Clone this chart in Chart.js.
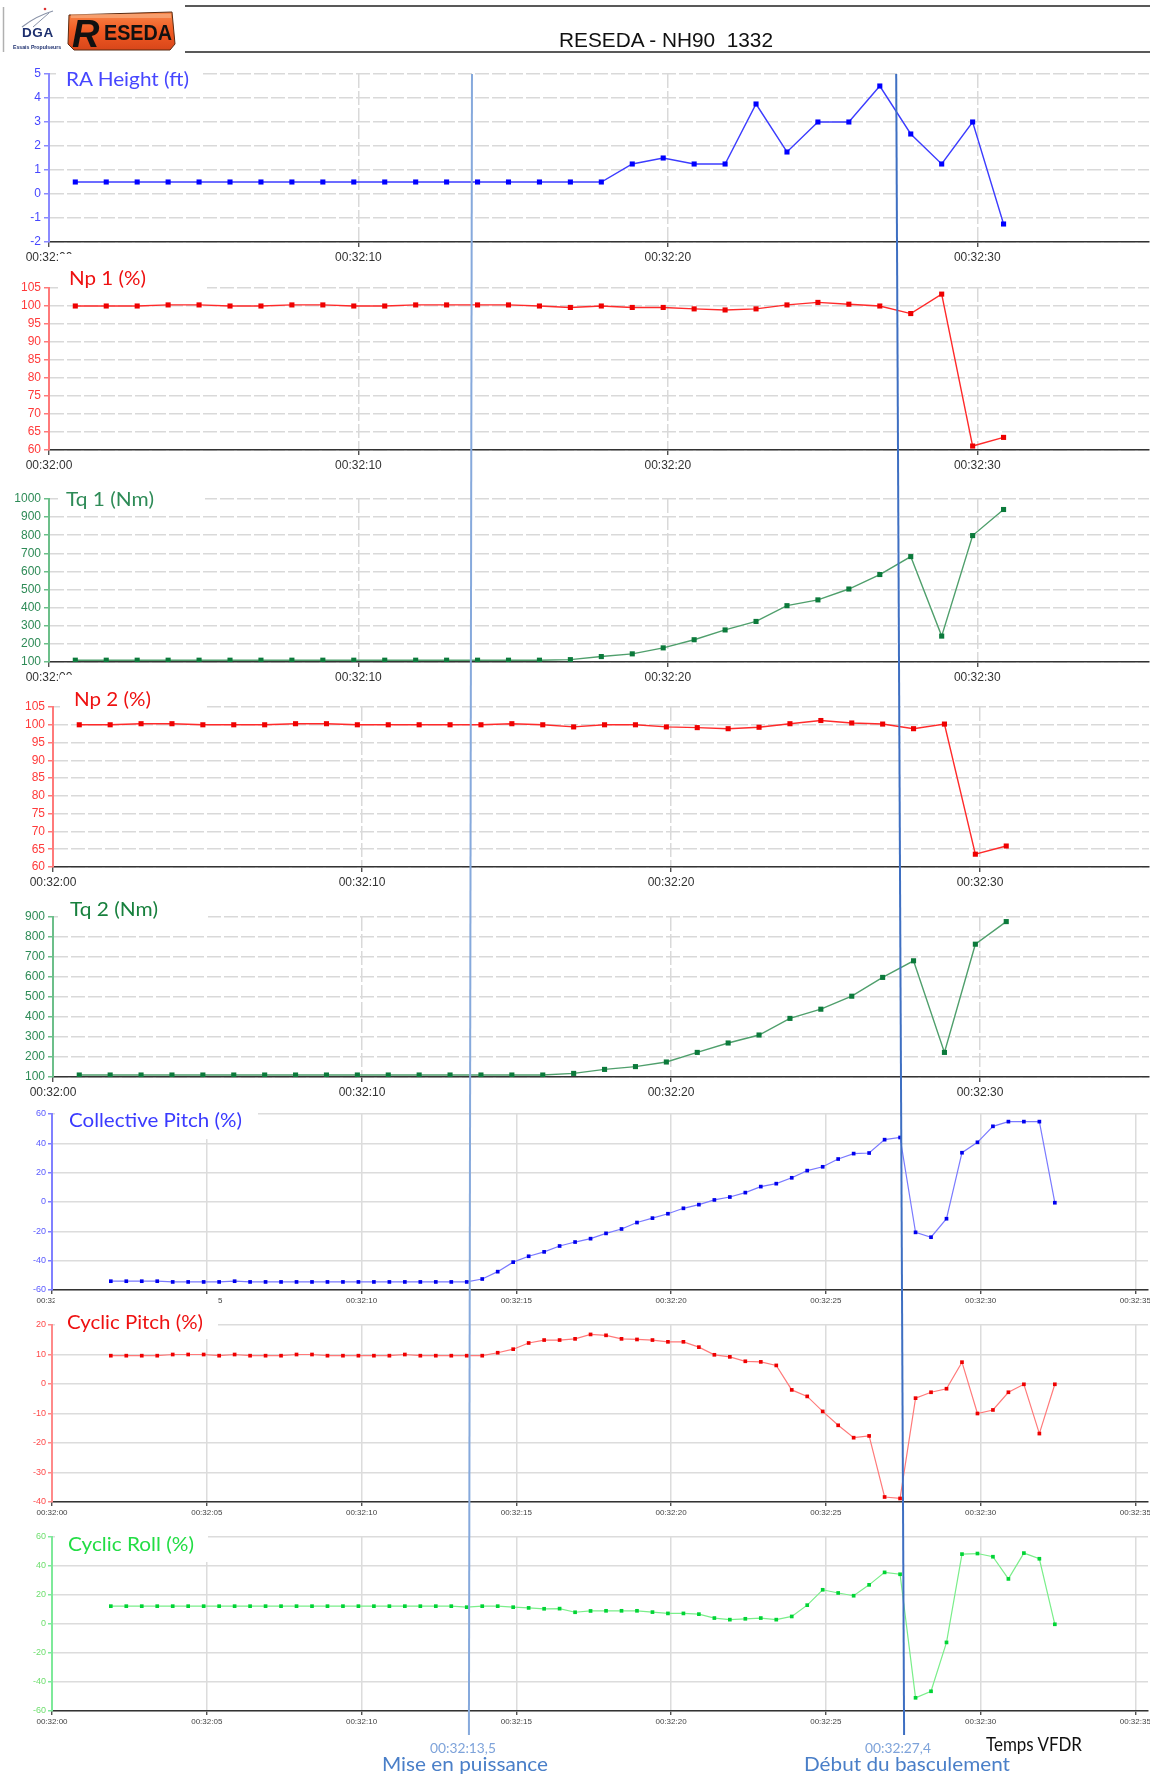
<!DOCTYPE html>
<html><head><meta charset="utf-8">
<script src="https://cdn.jsdelivr.net/npm/chart.js@4.4.1/dist/chart.umd.min.js"></script>
<style>
html,body{margin:0;padding:0;background:#fff;}
#page{position:relative;width:1154px;height:1776px;overflow:hidden;background:#fff;font-family:"Liberation Sans",Arial,sans-serif;}
canvas.panel{position:absolute;left:0;z-index:1;}
.tbox{position:absolute;background:#fff;z-index:5;}
.txt{position:absolute;white-space:pre;line-height:1;z-index:8;}
svg.ov{position:absolute;left:0;top:0;z-index:7;pointer-events:none;}
#edge{position:absolute;left:1150px;top:0;width:4px;height:1776px;background:#fff;z-index:6;}
</style></head>
<body><div id="page"><div id="edge"></div></div>
<script>
// ---------------- DATA ----------------
const engineTimes = [0.85,1.85,2.85,3.85,4.85,5.85,6.85,7.85,8.85,9.85,10.85,11.85,12.85,13.85,14.85,15.85,16.85,17.85,18.85,19.85,20.85,21.85,22.85,23.85,24.85,25.85,26.85,27.85,28.85,29.85,30.85];
const flightTimes = [1.9,2.4,2.9,3.4,3.9,4.4,4.9,5.4,5.9,6.4,6.9,7.4,7.9,8.4,8.9,9.4,9.9,10.4,10.9,11.4,11.9,12.4,12.9,13.4,13.9,14.4,14.9,15.4,15.9,16.4,16.9,17.4,17.9,18.4,18.9,19.4,19.9,20.4,20.9,21.4,21.9,22.4,22.9,23.4,23.9,24.4,24.9,25.4,25.9,26.4,26.9,27.4,27.9,28.4,28.9,29.4,29.9,30.4,30.9,31.4,31.9,32.4];

const raHeight = [0.5,0.5,0.5,0.5,0.5,0.5,0.5,0.5,0.5,0.5,0.5,0.5,0.5,0.5,0.5,0.5,0.5,0.5,1.25,1.5,1.25,1.25,3.75,1.75,3,3,4.5,2.5,1.25,3,-1.25];
const np1 = [100,100,100,100.3,100.3,100,100,100.3,100.3,100,100,100.3,100.3,100.3,100.3,100,99.6,100,99.6,99.6,99.2,98.9,99.2,100.3,101,100.5,100,97.9,103.3,61.1,63.5];
const tq1 = [110,110,110,110,110,110,110,110,110,110,110,110,110,110,110,110,113,130,145,178,223,277,324,411,443,503,583,682,243,798,942];
const np2 = [100,100,100.3,100.3,100,100,100,100.3,100.3,100,100,100,100,100,100.3,100,99.4,100,100,99.4,99.2,98.9,99.3,100.3,101.2,100.5,100.2,98.9,100.2,63.6,65.9];
const tq2 = [110,110,110,110,110,110,110,110,110,110,110,110,110,110,110,110,118,138,152,175,223,270,310,393,439,504,598,681,223,764,877];

const collectivePitch = [-54,-54,-54,-54,-54.5,-54.5,-54.5,-54.5,-54,-54.5,
 -54.5,-54.5,-54.5,-54.5,-54.5,-54.5,-54.5,-54.5,-54.5,-54.5,
 -54.5,-54.5,-54.5,-54.5,-52.5,-47.5,-41,-37,-34,-30,
 -27.3,-25,-21.4,-18.4,-14,-11,-8,-4.3,-1.8,1.4,
 3.4,6.4,10.5,12.5,16.5,21.4,24,29.3,33,33.4,
 42.5,44,-20.7,-24,-11.4,33.6,40.7,51.6,54.8,54.8,
 54.8,-0.5];
const cyclicPitch = [9.6,9.6,9.6,9.6,10,10,10,9.6,10,9.6,
 9.6,9.6,10,10,9.6,9.6,9.6,9.6,9.6,10,
 9.6,9.6,9.6,9.6,9.6,10.6,11.8,13.9,14.9,14.9,
 15.3,16.8,16.5,15.3,15.1,14.9,14.3,14.3,12.5,9.9,
 9.2,7.7,7.5,6.3,-2,-4.2,-9.3,-14,-18.2,-17.6,
 -38.3,-38.8,-4.8,-2.8,-1.6,7.4,-10,-8.8,-2.8,-0.1,
 -16.8,-0.1];
const cyclicRoll = [12.3,12.3,12.3,12.3,12.3,12.3,12.3,12.3,12.3,12.3,
 12.3,12.3,12.3,12.3,12.3,12.3,12.3,12.3,12.3,12.3,
 12.3,12.3,12.3,11.6,12.3,12.3,11.6,11.1,10.5,10.6,
 8.1,9,9.1,9.1,9.1,8.2,7.3,7.3,6.8,4.1,
 3,3.6,4.1,3,5.2,13,23.6,21.4,19.5,27,
 35.6,34.3,-50.9,-46.4,-12.7,48.2,48.6,46.4,31.1,48.9,
 45,-0.2];

const engineTicks = [0,10,20,30];
const flightTicks = [0,5,10,15,20,25,30,35];
const markerLabels = ['00:32:13,5','00:32:27,4'];
const markerNames = ['Mise en puissance','Début du basculement'];
const markerTopTimes = [13.67,27.38];
const markerBottomTimes = [13.47,27.53];
const chartTitle = 'RESEDA - NH90  1332';
const xAxisName = 'Temps VFDR';

// ---------------- LAYOUT / STYLE ----------------
Chart.defaults.font.family = '"Liberation Sans", Arial, sans-serif';
const page = document.getElementById('page');
const W = 1154;

const panels = [
 {title:'RA Height (ft)', values:raHeight, times:engineTimes, xticks:engineTicks, kind:'e', left:49, right:1149, top:74, bottom:242, xmax:35.55, ymin:-2, ymax:5, ystep:1,
  line:'#3c3cff', point:'#0000ff', axis:'#8a8aff', tick:'#4646ff', tcol:'#4646ff', box:[56,60,147,28], tx:66, tcy:78, tw:123},
 {title:'Np 1 (%)', values:np1, times:engineTimes, xticks:engineTicks, kind:'e', left:49, right:1149, top:288, bottom:450, xmax:35.55, ymin:60, ymax:105, ystep:5,
  line:'#ff2a2a', point:'#ee0000', axis:'#ff7a7a', tick:'#ff3a3a', tcol:'#ee1111', box:[58,254,149,38], tx:69, tcy:277, tw:77},
 {title:'Tq 1 (Nm)', values:tq1, times:engineTimes, xticks:engineTicks, kind:'e', left:49, right:1149, top:499, bottom:662, xmax:35.55, ymin:100, ymax:1000, ystep:100,
  line:'#4f9f6c', point:'#0b7a3b', axis:'#6cbf8a', tick:'#2e8b57', tcol:'#2e8b57', box:[58,478,147,26], tx:66, tcy:498, tw:88},
 {title:'Np 2 (%)', values:np2, times:engineTimes, xticks:engineTicks, kind:'e', left:53, right:1149, top:707, bottom:867, xmax:35.47, ymin:60, ymax:105, ystep:5,
  line:'#ff2a2a', point:'#ee0000', axis:'#ff7a7a', tick:'#ff3a3a', tcol:'#ee1111', box:[60,675,147,36], tx:74, tcy:698, tw:77},
 {title:'Tq 2 (Nm)', values:tq2, times:engineTimes, xticks:engineTicks, kind:'e', left:53, right:1149, top:917, bottom:1077, xmax:35.47, ymin:100, ymax:900, ystep:100,
  line:'#4f9f6c', point:'#0b7a3b', axis:'#6cbf8a', tick:'#2e8b57', tcol:'#17803d', box:[58,895,150,26], tx:70, tcy:908, tw:88},
 {title:'Collective Pitch (%)', values:collectivePitch, times:flightTimes, xticks:flightTicks, kind:'f', left:52, right:1148, top:1114, bottom:1290, xmax:35.41, ymin:-60, ymax:60, ystep:20,
  line:'#7a7aff', point:'#0000ee', axis:'#8080ff', tick:'#5a5aff', tcol:'#3a3aff', box:[55,1105,203,34], tx:69, tcy:1118, tw:173},
 {title:'Cyclic Pitch (%)', values:cyclicPitch, times:flightTimes, xticks:flightTicks, kind:'f', left:52, right:1148, top:1325, bottom:1502, xmax:35.41, ymin:-40, ymax:20, ystep:10,
  line:'#ff7a7a', point:'#ee0000', axis:'#ff8a8a', tick:'#ff4a4a', tcol:'#ee1111', box:[55,1296,163,43], tx:67, tcy:1320, tw:136},
 {title:'Cyclic Roll (%)', values:cyclicRoll, times:flightTimes, xticks:flightTicks, kind:'f', left:52, right:1148, top:1537, bottom:1711, xmax:35.41, ymin:-60, ymax:60, ystep:20,
  line:'#7aee8a', point:'#00d435', axis:'#7ee99a', tick:'#6ede6e', tcol:'#22dd44', box:[55,1519,153,43], tx:68, tcy:1542, tw:126}
];

function fmtTime(v){ return '00:32:' + String(v).padStart(2,'0'); }

function addText(txt, o){
  const s = document.createElement('div');
  s.className = 'txt';
  s.textContent = txt;
  s.style.font = (o.weight||'normal') + ' ' + o.size + 'px ' + (o.family||'Lato, "Open Sans", sans-serif');
  s.style.color = o.color;
  page.appendChild(s);
  const w = s.getBoundingClientRect().width;
  const tw = o.width || w;
  const sx = tw / w;
  let left = (o.cx !== undefined) ? o.cx - tw/2 : o.x;
  s.style.left = left + 'px';
  s.style.top = (o.cy - o.size*0.55) + 'px';
  s.style.transformOrigin = '0 0';
  s.style.transform = 'scaleX(' + sx + ')';
  return s;
}

const charts = [];
panels.forEach(p => {
  const eng = p.kind === 'e';
  const padTop = 10, xAxisH = eng ? 26 : 22;
  const cv = document.createElement('canvas');
  cv.className = 'panel';
  cv.width = W; cv.height = (p.bottom - p.top) + padTop + xAxisH;
  cv.style.top = (p.top - padTop) + 'px';
  page.appendChild(cv);
  const gridCol = eng ? '#d9d9d9' : '#dcdcdc';
  const dash = eng ? [14,3] : [];
  const ch = new Chart(cv.getContext('2d'), {
    type:'line',
    data:{ datasets:[{
      data: p.times.map((t,i)=>({x:t, y:p.values[i]})),
      borderColor:p.line, borderWidth: eng ? 1.4 : 1.2, tension:0, fill:false,
      pointStyle:'rect', pointRadius: eng ? 3.6 : 2.6, pointBackgroundColor:p.point, pointBorderColor:p.point, pointBorderWidth:0
    }]},
    options:{
      responsive:false, animation:false, devicePixelRatio:1, events:[],
      layout:{padding:{top:padTop, right:W - p.right, left:0, bottom:0}},
      plugins:{legend:{display:false}, tooltip:{enabled:false}},
      scales:{
        x:{ type:'linear', min:0, max:p.xmax,
          afterBuildTicks: s => { s.ticks = p.xticks.map(v=>({value:v})); },
          afterFit: s => { s.height = xAxisH; s.paddingLeft = 0; s.paddingRight = 0; },
          ticks:{ autoSkip:false, maxRotation:0, minRotation:0, callback: v => fmtTime(v),
            color: eng ? '#333' : '#444', font:{size: eng ? 12 : 8}, padding: eng ? 3 : 2 },
          grid:{ color:gridCol, lineWidth:1.5, tickColor:'#333', tickLength: eng ? 5 : 4, tickWidth:1.2 },
          border:{ display:true, color:'#333', width:1.6, dash:dash }
        },
        y:{ type:'linear', min:p.ymin, max:p.ymax,
          afterFit: s => { s.width = p.left; s.paddingTop = 0; s.paddingBottom = 0; },
          ticks:{ stepSize:p.ystep, color:p.tick, font:{size: eng ? 12 : 9}, padding: eng ? 3 : 2, callback: v => String(v) },
          grid:{ color:gridCol, lineWidth:1.5, tickColor:p.axis, tickLength: eng ? 5 : 4, tickWidth:1.5 },
          border:{ display:true, color:p.axis, width:2, dash:dash }
        }
      }
    }
  });
  charts.push(ch);
  const b = document.createElement('div');
  b.className = 'tbox';
  b.style.left = p.box[0]+'px'; b.style.top = p.box[1]+'px';
  b.style.width = p.box[2]+'px'; b.style.height = p.box[3]+'px';
  page.appendChild(b);
  addText(p.title, {x:p.tx, cy:p.tcy, size: eng ? 18.5 : 20, color:p.tcol, width:p.tw});
});

// ---------------- HEADER ----------------
const NS = 'http://www.w3.org/2000/svg';
function svgEl(tag, attrs, parent){ const e = document.createElementNS(NS, tag); for (const k in attrs) e.setAttribute(k, attrs[k]); parent.appendChild(e); return e; }
const hdr = svgEl('svg', {width:W, height:60, class:'ov'}, page);
hdr.style.zIndex = 9;
svgEl('line', {x1:185, y1:6, x2:1150, y2:6, stroke:'#222', 'stroke-width':1.5}, hdr);
svgEl('line', {x1:185, y1:52, x2:1150, y2:52, stroke:'#222', 'stroke-width':1.5}, hdr);
svgEl('line', {x1:3.5, y1:7, x2:3.5, y2:52, stroke:'#b0b0b0', 'stroke-width':1.5}, hdr);
svgEl('path', {d:'M22 27 Q36 16 53 11', stroke:'#8a93a8', 'stroke-width':1.2, fill:'none'}, hdr);
svgEl('path', {d:'M33 27 L49 13', stroke:'#8a93a8', 'stroke-width':1, fill:'none'}, hdr);
svgEl('circle', {cx:45, cy:9, r:1.3, fill:'#d33'}, hdr);
const dga = svgEl('text', {x:22, y:37, 'font-family':'"Liberation Sans",Arial', 'font-weight':'bold', 'font-size':13.5, fill:'#1d2f6e', 'letter-spacing':'0.6'}, hdr);
dga.textContent = 'DGA';
const ep = svgEl('text', {x:13, y:49, 'font-family':'"Liberation Sans",Arial', 'font-weight':'bold', 'font-size':5.2, fill:'#1d2f6e'}, hdr);
ep.textContent = 'Essais  Propulseurs';
const grad = svgEl('linearGradient', {id:'og', x1:0, y1:0, x2:0, y2:1}, svgEl('defs', {}, hdr));
svgEl('stop', {offset:'0', 'stop-color':'#f7874a'}, grad);
svgEl('stop', {offset:'0.5', 'stop-color':'#f15a22'}, grad);
svgEl('stop', {offset:'1', 'stop-color':'#d8461a'}, grad);
svgEl('path', {d:'M69 15 L172 12 L175 44 L170 50 L74 50 L68 44 Z', fill:'url(#og)', stroke:'#5a2a10', 'stroke-width':1}, hdr);
svgEl('rect', {x:71, y:14, width:100, height:4, fill:'#f9b48a', opacity:0.6}, hdr);
const rR = svgEl('text', {x:72, y:47, 'font-family':'"Liberation Sans",Arial', 'font-weight':'bold', 'font-size':38, fill:'#111', 'font-style':'italic'}, hdr);
rR.textContent = 'R';
const rEs = svgEl('text', {x:104, y:40, 'font-family':'"Liberation Sans Narrow","Liberation Sans",Arial', 'font-weight':'bold', 'font-size':22, fill:'#111', textLength:68, lengthAdjust:'spacingAndGlyphs'}, hdr);
rEs.textContent = 'ESEDA';
addText(chartTitle, {cx:666, cy:40, size:20, color:'#111', family:'"Liberation Sans", Arial, sans-serif', width:214});

// ---------------- EVENT MARKERS ----------------
const ov = svgEl('svg', {width:W, height:1776, class:'ov'}, page);
const topChart = charts[0], botChart = charts[charts.length-1];
const yTop = topChart.chartArea.top + (panels[0].top - 10);
const lineColors = ['#86a9dc','#3e6fc2'];
const lineBottom = 1735;
markerLabels.forEach((lab, i) => {
  const xTop = topChart.scales.x.getPixelForValue(markerTopTimes[i]);
  const xBot = botChart.scales.x.getPixelForValue(markerBottomTimes[i]);
  svgEl('line', {x1:xTop, y1:yTop, x2:xBot, y2:lineBottom, stroke:lineColors[i], 'stroke-width':2}, ov);
  addText(lab, {cx:xBot - 6, cy:1747, size:14, color:'#7ea3da', width:66});
  addText(markerNames[i], {cx:xBot + (i===0 ? -4 : 3), cy:1762, size:20, color:'#4a7fc8', width: i===0 ? 166 : 206});
});
addText(xAxisName, {x:986, cy:1743, size:18.5, color:'#111', width:96});
</script>
</body></html>
